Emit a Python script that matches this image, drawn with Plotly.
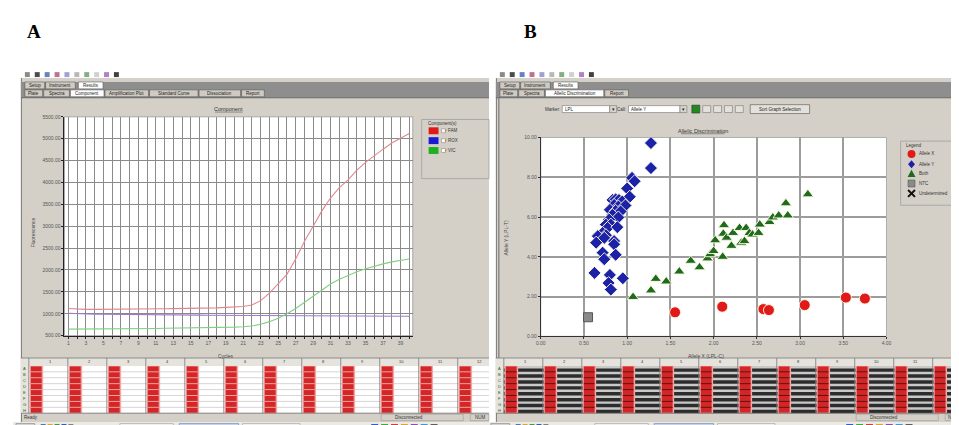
import plotly.graph_objects as go

# ---------------- data ----------------
cycles = list(range(1, 41))
fam = [1120, 1105, 1100, 1100, 1100, 1105, 1108, 1110, 1110, 1112,
       1115, 1115, 1118, 1120, 1120, 1122, 1125, 1135, 1145, 1150,
       1165, 1200, 1300, 1470, 1680, 1900, 2250, 2650, 3000, 3350,
       3650, 3880, 4060, 4280, 4460, 4620, 4760, 4900, 5010, 5120]
rox = [1010, 1000, 995, 990, 988, 985, 983, 980, 978, 976,
       975, 973, 972, 970, 969, 968, 967, 966, 965, 964,
       963, 962, 960, 959, 958, 957, 956, 955, 954, 953,
       952, 951, 950, 950, 949, 948, 947, 946, 945, 945]
vic = [650, 650, 652, 655, 655, 658, 660, 660, 662, 665,
       665, 668, 670, 672, 675, 678, 680, 685, 690, 695,
       705, 720, 760, 820, 900, 1000, 1120, 1260, 1420, 1560,
       1680, 1790, 1880, 1960, 2030, 2090, 2140, 2185, 2220, 2250]
cycle_labels = [str(c) if c % 2 == 1 else "" for c in cycles]
fluor_ticks = [500, 1000, 1500, 2000, 2500, 3000, 3500, 4000, 4500, 5000, 5500]

allele_y_x = [1.275, 1.275, 1.056, 1.086, 1.00, 1.03, 0.83, 0.867, 0.905, 0.943,
              0.849, 0.898, 0.98, 0.80, 0.867, 0.924, 0.83, 0.898, 0.792, 0.754,
              0.811, 0.773, 0.886, 0.716, 0.754, 0.66, 0.735, 0.641, 0.849, 0.849,
              0.716, 0.867, 0.735, 0.622, 0.80, 0.95, 0.785, 0.811]
allele_y_y = [9.72, 8.46, 7.97, 7.80, 7.44, 7.02, 6.86, 6.89, 6.86, 6.78,
              6.61, 6.53, 6.58, 6.36, 6.31, 6.28, 6.11, 5.98, 5.87, 5.62,
              5.62, 5.45, 5.49, 5.20, 5.09, 5.04, 4.95, 4.71, 4.79, 4.63,
              4.21, 4.10, 3.88, 3.19, 3.09, 2.92, 2.68, 2.35]
both_x = [1.068, 1.275, 1.331, 1.452, 1.603, 1.735, 1.837, 1.93, 1.96, 2.00,
          2.105, 2.018, 2.12, 2.112, 2.15, 2.206, 2.225, 2.30, 2.32, 2.357,
          2.376, 2.414, 2.45, 2.52, 2.534, 2.647, 2.685, 2.753, 2.858, 2.836, 3.09]
both_y = [1.98, 2.31, 2.89, 2.76, 3.26, 3.80, 3.47, 3.92, 4.13, 4.29,
          4.00, 4.83, 5.59, 5.16, 4.96, 4.55, 5.20, 5.45, 4.71, 4.79,
          5.45, 5.20, 5.12, 5.20, 5.62, 5.75, 5.98, 6.08, 6.08, 6.69, 7.14]
allele_x_x = [1.554, 2.10, 2.576, 2.64, 3.054, 3.53, 3.75]
allele_x_y = [1.21, 1.49, 1.37, 1.32, 1.57, 1.95, 1.90]
ntc_x = [0.547]
ntc_y = [0.96]
allele_ticks_x = [0, 0.5, 1, 1.5, 2, 2.5, 3, 3.5, 4]
allele_ticks_y = [0, 2, 4, 6, 8, 10]

# ---------------- helpers ----------------
W, H = 959, 425
FONT = "Liberation Sans"
shapes, annotations = [], []


def px(x):
    return x / W


def py(y):
    return 1 - y / H


def rect(x0, y0, x1, y1, fill=None, line=None, lw=0, kind="rect"):
    shapes.append(dict(type=kind, xref="paper", yref="paper",
                       x0=px(x0), x1=px(x1), y0=py(y1), y1=py(y0),
                       fillcolor=fill or "rgba(0,0,0,0)",
                       line=dict(color=line or "rgba(0,0,0,0)", width=lw),
                       layer="below"))


def seg(x0, y0, x1, y1, color, lw=1):
    shapes.append(dict(type="line", xref="paper", yref="paper",
                       x0=px(x0), x1=px(x1), y0=py(y0), y1=py(y1),
                       line=dict(color=color, width=lw), layer="below"))


def poly(pts, fill, line="rgba(0,0,0,0)", lw=0):
    d = "M " + " L ".join(f"{px(a):.5f},{py(b):.5f}" for a, b in pts) + " Z"
    shapes.append(dict(type="path", xref="paper", yref="paper", path=d,
                       fillcolor=fill, line=dict(color=line, width=lw), layer="below"))


def text(x, y, s, size=5, color="#3a3a3a", xa="left", ya="middle", angle=0, family=FONT):
    annotations.append(dict(xref="paper", yref="paper", x=px(x), y=py(y), text=s,
                            showarrow=False, textangle=angle, borderpad=0,
                            font=dict(size=size, color=color, family=family),
                            xanchor=xa, yanchor=ya))


PANEL = "#d4d0c8"


def frame(ox, right, tabs2, dark_plate):
    left = ox + 8
    # toolbar icons at very top
    icol = ["#8a8a8a", "#4b4b4b", "#6a7fc0", "#c07090", "#a0a0d8", "#b8b8b8",
            "#80b080", "#d0d0d0", "#b080c8", "#404040"]
    for i, c in enumerate(icol):
        rect(ox + 12 + i * 10, 62, ox + 17 + i * 10, 67, fill=c)
    # panel
    rect(left, 68, right, 417, fill=PANEL)
    seg(left + 0.5, 68, left + 0.5, 417, "#7a7a7a", 1)
    # tab strip
    rect(left, 72, right, 88, fill="#8e8e8e")
    for i, (lab, a, b) in enumerate([("Setup", 12, 32), ("Instrument", 33, 63), ("Results", 66, 91)]):
        rect(ox + a, 72, ox + b, 79, fill="#ffffff" if i == 2 else "#cfcbc3", line="#555", lw=0.6)
        text(ox + (a + b) / 2, 75.5, lab, size=4.5, color="#222", xa="center")
    for i, (lab, a, b, sel) in enumerate(tabs2):
        rect(ox + a, 80, ox + b, 87, fill="#ffffff" if sel else "#cfcbc3", line="#555", lw=0.6)
        text(ox + (a + b) / 2, 83.5, lab, size=4.5, color="#222", xa="center")
    seg(left, 88, right, 88, "#6a6a6a", 1)
    # plate header
    top, rh = 360, 6
    rect(left, 352, right, 360, fill="#e6e3dc")
    seg(left, 352, right, 352, "#7a7a7a", 0.8)
    body = "#c9c9c9" if dark_plate else "#ffffff"
    rect(ox + 16, top, right, top + 8 * rh, fill=body)
    rect(left, top, ox + 16, top + 8 * rh, fill="#e6e3dc")
    rows = ["A", "B", "C", "D", "E", "F", "G", "H"]
    for r, lab in enumerate(rows):
        y0 = top + r * rh
        if dark_plate:
            rect(ox + 16, y0 + 2.5, right, y0 + rh, fill="#2c2c2c")
        else:
            seg(ox + 16, y0 + rh, right, y0 + rh, "#c4c4c4", 0.7)
        text(ox + 12, y0 + rh / 2, lab, size=4, color="#1b5e1b", xa="center")
    pitch = 39.4
    for c in range(12):
        cs = ox + 16 + c * pitch
        if cs >= right:
            break
        seg(cs, 352, cs, top + 8 * rh, "#7a7a7a", 0.8)
        text(min(cs + 22, right - 3), 356, str(c + 1), size=4, color="#333", xa="center")
        rect(cs + 0.8, top, min(cs + 14.5, right), top + 8 * rh, fill="#f2a6a6")
        rect(cs + 2, top + 0.5, min(cs + 13, right), top + 8 * rh - 0.5, fill="#d42626")
        for r in range(1, 8):
            seg(cs + 2, top + r * rh, min(cs + 13, right), top + r * rh,
                "#3a1010" if dark_plate else "#f6c4c4", 0.8)
    seg(left, top + 8 * rh, right, top + 8 * rh, "#7a7a7a", 0.8)
    # status bar
    if ox == 0:
        text(ox + 10, 412, "Ready", size=4.5, color="#333")
    rect(ox + 372, 409, ox + 455, 415.5, line="#9a9a9a", lw=0.6)
    text(ox + 400, 412.3, "Disconnected", size=4.5, color="#333", xa="center")
    rect(ox + 462, 409, right, 415.5, line="#9a9a9a", lw=0.6)
    text(min(ox + 472, right - 9), 412.3, "NUM", size=4.5, color="#333", xa="center")
    # task bar
    rect(ox + 0, 417, right, 425, fill="#eceae4")
    rect(ox + 3, 418.5, ox + 22, 424.5, fill="#d8d8d8", line="#666", lw=0.5)
    rect(ox + 5, 420, ox + 9, 423.5, fill="#3a8a3a")
    for i, c in enumerate(["#3a6ea5", "#d0a030", "#3b8a3b", "#2050a0", "#777"]):
        rect(ox + 28 + i * 7, 419, ox + 33 + i * 7, 424, fill=c)
    rect(ox + 108, 418.5, ox + 162, 424.5, fill="#f4f4f4", line="#888", lw=0.5)
    rect(ox + 168, 418.5, ox + 228, 424.5, fill="#c9d8ee", line="#4a6aa0", lw=0.5)
    rect(ox + 232, 418.5, ox + 290, 424.5, fill="#f4f4f4", line="#888", lw=0.5)
    for i, c in enumerate(["#2050c0", "#30a030", "#c03030", "#d0a020", "#8040a0", "#3090d0", "#505050"]):
        rect(ox + 362 + i * 10, 419, ox + 369 + i * 10, 424, fill=c)


# ---------------- panel A frame ----------------
tabsA = [("Plate", 12, 30, False), ("Spectra", 31, 57, False), ("Component", 58, 92, True),
         ("Amplification Plot", 93, 137, False), ("Standard Curve", 138, 187, False),
         ("Dissociation", 188, 230, False), ("Report", 231, 254, False)]
frame(0, 481, tabsA, False)
rect(52, 107.3, 404, 329.3, fill="#ffffff", line="#a8a8a8", lw=1)
text(218, 99.5, "Component", size=5.5, color="#333", xa="center")
seg(204, 102.5, 232, 102.5, "#555", 0.6)
text(20, 225, "Fluorescence", size=5, color="#444", xa="center", angle=-90)
text(215, 349.5, "Cycles", size=5, color="#444", xa="center")
# legend A
rect(413, 110, 481, 170, line="#a0a0a0", lw=0.8)
text(418, 114, "Component(s)", size=4.5, color="#333")
for i, (lab, col) in enumerate([("FAM", "#e01818"), ("ROX", "#1a1ad0"), ("VIC", "#1fb01f")]):
    y0 = 118 + i * 10
    rect(420, y0, 430, y0 + 7, fill=col)
    rect(433, y0 + 1.5, 437, y0 + 5.5, fill="#ffffff", line="#777", lw=0.5)
    text(434.2, y0 + 3.3, "✓", size=4.5, color="#b08000")
    text(439, y0 + 3.5, lab, size=4.5, color="#333")

# ---------------- panel B frame ----------------
tabsB = [("Plate", 12, 30, False), ("Spectra", 31, 57, False),
         ("Allelic Discrimination", 58, 117, True), ("Report", 118, 142, False)]
frame(480, 959, tabsB, True)
seg(491, 88, 491, 352, "#6a6a6a", 1)
# control row
text(554, 99.5, "Marker:", size=4.5, color="#333", xa="right")
rect(555, 96, 603, 103, fill="#ffffff", line="#777", lw=0.6)
text(557, 99.5, "LPL", size=4.5, color="#222")
rect(603, 96, 610, 103, fill="#d8d5ce", line="#777", lw=0.6)
text(606.5, 99.5, "▾", size=5, color="#222", xa="center")
text(620.5, 99.5, "Call:", size=4.5, color="#333", xa="right")
rect(622, 96, 674, 103, fill="#ffffff", line="#777", lw=0.6)
text(624, 99.5, "Allele Y", size=4.5, color="#222")
rect(674, 96, 681, 103, fill="#d8d5ce", line="#777", lw=0.6)
text(677.5, 99.5, "▾", size=5, color="#222", xa="center")
rect(686, 95.5, 694, 103.5, fill="#1f8a1f", line="#333", lw=0.6)
for i in range(4):
    rect(697 + i * 11, 96, 705 + i * 11, 103, fill="#e4e1da", line="#777", lw=0.6)
rect(745, 95, 805, 104, fill="#e4e1da", line="#666", lw=0.7)
text(775, 99.5, "Sort Graph Selection", size=4.5, color="#222", xa="center")
rect(533.3, 128.3, 882.7, 330, fill="#ffffff", line="#b0b0b0", lw=1)
text(697, 121.5, "Allelic Discrimination", size=5.5, color="#333", xa="center")
seg(675, 124.5, 719, 124.5, "#555", 0.6)
text(498, 230, "Allele Y (LPL-T)", size=5, color="#444", xa="center", angle=-90)
text(700, 349.5, "Allele X (LPL-C)", size=5, color="#444", xa="center")
# legend B
rect(897, 132, 960, 197, line="#a0a0a0", lw=0.8)
text(901, 136, "Legend", size=4.5, color="#333")
lx = 908
shapes.append(dict(type="circle", xref="paper", yref="paper", x0=px(lx - 4), x1=px(lx + 4),
                   y0=py(149), y1=py(141), fillcolor="#e01a1a", line=dict(color="#e01a1a", width=0),
                   layer="below"))
poly([(lx, 151.5), (lx + 3.5, 155.5), (lx, 159.5), (lx - 3.5, 155.5)], "#1c22a8")
poly([(lx, 161), (lx + 4, 168.5), (lx - 4, 168.5)], "#1e6a1e")
rect(lx - 3.5, 171.5, lx + 3.5, 178.5, fill="#8a8a8a", line="#555", lw=0.6)
seg(lx - 3.5, 181.5, lx + 3.5, 188.5, "#111", 2)
seg(lx - 3.5, 188.5, lx + 3.5, 181.5, "#111", 2)
for lab, y in [("Allele X", 145), ("Allele Y", 155.5), ("Both", 165), ("NTC", 175), ("Undetermined", 185)]:
    text(915, y, lab, size=4.5, color="#333")

# A / B labels
text(13, 21, "<b>A</b>", size=19, color="#000", family="Liberation Serif")
text(515, 21, "<b>B</b>", size=19, color="#000", family="Liberation Serif")

# ---------------- traces ----------------
fig = go.Figure()
fig.add_trace(go.Scatter(x=cycles, y=rox, mode="lines", line=dict(color="#9a78d0", width=1.1),
                         xaxis="x", yaxis="y", name="ROX"))
fig.add_trace(go.Scatter(x=cycles, y=vic, mode="lines", line=dict(color="#80d080", width=1.1),
                         xaxis="x", yaxis="y", name="VIC"))
fig.add_trace(go.Scatter(x=cycles, y=fam, mode="lines", line=dict(color="#e08890", width=1.1),
                         xaxis="x", yaxis="y", name="FAM"))

halo = dict(color="rgba(255,252,225,0.9)", width=1)
fig.add_trace(go.Scatter(x=both_x, y=both_y, mode="markers", name="Both",
                         marker=dict(symbol="triangle-up", size=10, color="#1e6a1e", line=halo),
                         xaxis="x2", yaxis="y2"))
fig.add_trace(go.Scatter(x=allele_y_x, y=allele_y_y, mode="markers", name="Allele Y",
                         marker=dict(symbol="diamond", size=10, color="#1c22a8", line=halo),
                         xaxis="x2", yaxis="y2"))
fig.add_trace(go.Scatter(x=allele_x_x, y=allele_x_y, mode="markers", name="Allele X",
                         marker=dict(symbol="circle", size=11, color="#e01a1a", line=halo),
                         xaxis="x2", yaxis="y2"))
fig.add_trace(go.Scatter(x=ntc_x, y=ntc_y, mode="markers", name="NTC",
                         marker=dict(symbol="square", size=9, color="#8a8a8a",
                                     line=dict(color="#555", width=1)),
                         xaxis="x2", yaxis="y2"))

tickfont = dict(size=5, color="#555", family=FONT)
fig.update_layout(
    width=W, height=H, margin=dict(l=0, r=0, t=0, b=0),
    paper_bgcolor="#ffffff", plot_bgcolor="rgba(0,0,0,0)",
    showlegend=False, shapes=shapes, annotations=annotations,
    xaxis=dict(domain=[52 / W, 404 / W], range=[0.55, 40.4], tickvals=cycles, ticktext=cycle_labels,
               showgrid=True, gridcolor="#8a8a8a", gridwidth=1.3, zeroline=False,
               showline=True, linecolor="#222", linewidth=1, ticks="outside", ticklen=2,
               tickcolor="#222", tickfont=tickfont, anchor="y", fixedrange=True),
    yaxis=dict(domain=[1 - 329.3 / H, 1 - 107.3 / H], range=[500, 5500], tickvals=fluor_ticks,
               tickformat=".2f", showgrid=True, gridcolor="#8a8a8a", gridwidth=1.3, zeroline=False,
               showline=True, linecolor="#222", linewidth=1, ticks="outside", ticklen=2,
               tickcolor="#222", tickfont=tickfont, anchor="x", fixedrange=True),
    xaxis2=dict(domain=[533.3 / W, 882.7 / W], range=[0, 4], tickvals=allele_ticks_x, tickformat=".2f",
                showgrid=True, gridcolor="#9c9c9c", gridwidth=1.5, zeroline=False,
                showline=True, linecolor="#333", linewidth=1, ticks="outside", ticklen=2,
                tickcolor="#333", tickfont=tickfont, anchor="y2", fixedrange=True),
    yaxis2=dict(domain=[1 - 330 / H, 1 - 128.3 / H], range=[0, 10], tickvals=allele_ticks_y,
                tickformat=".2f", showgrid=True, gridcolor="#9c9c9c", gridwidth=1.5, zeroline=False,
                showline=True, linecolor="#333", linewidth=1, ticks="outside", ticklen=2,
                tickcolor="#333", tickfont=tickfont, anchor="x2", fixedrange=True),
)

fig.write_html("out.html", config={"displayModeBar": False})
